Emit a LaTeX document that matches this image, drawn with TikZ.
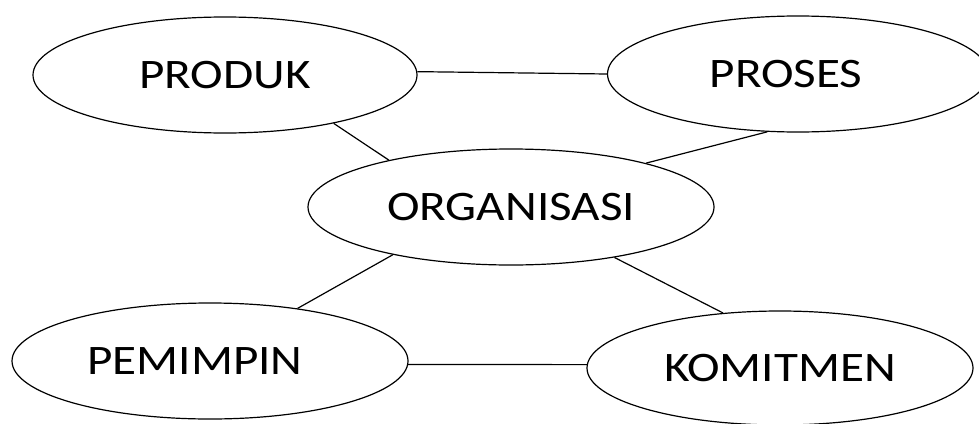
\documentclass[tikz,border=0pt]{standalone}
\usepackage{fontspec}
\setmainfont{Carlito}[FakeStretch=1.17]
\usetikzlibrary{shapes.geometric}
\tikzset{oval/.style={draw,ellipse,inner sep=0pt,line width=1.2pt,font=\fontsize{42}{46}\selectfont}}
\begin{document}
\begin{tikzpicture}[x=1pt,y=-1pt,line width=1.2pt]
\useasboundingbox (0,0) rectangle (979,423);
\node[oval,minimum width=384pt,minimum height=116pt] (produk) at (225,75) {PRODUK};
\node[oval,minimum width=381pt,minimum height=116pt] (proses) at (798,74) {PROSES\hspace*{24pt}};
\node[oval,minimum width=406pt,minimum height=116pt] (org) at (511,207) {ORGANISASI};
\node[oval,minimum width=396pt,minimum height=116pt] (pemimpin) at (210,361) {PEMIMPIN\hspace*{30pt}};
\node[oval,minimum width=386pt,minimum height=114pt] (komitmen) at (780,368) {KOMITMEN};
\draw (produk.1)--(proses.180);
\draw (produk.-24)--(org.159);
\draw (proses.-118)--(org.18);
\draw (org.-158)--(pemimpin.31);
\draw (org.-26)--(komitmen.136);
\draw (pemimpin.-1)--(komitmen.179);
\end{tikzpicture}
\end{document}
